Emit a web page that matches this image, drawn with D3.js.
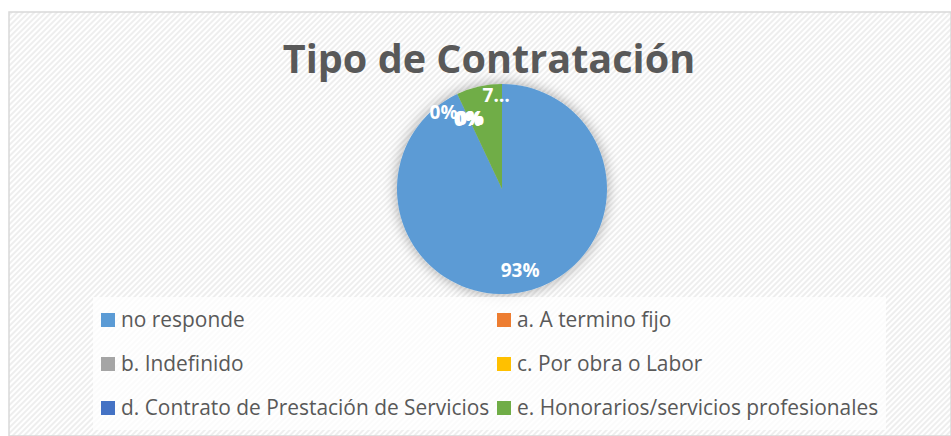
<!DOCTYPE html>
<html>
<head>
<meta charset="utf-8">
<script src="https://cdn.jsdelivr.net/npm/d3@7"></script>
<style>
  html, body { margin: 0; padding: 0; background: #fff; }
  svg { display: block; }
</style>
</head>
<body>
<div id="chart"></div>
<script>
// Tipo de Contratación - pie chart
const categories = [
    "no responde",
    "a. A termino fijo",
    "b. Indefinido",
    "c. Por obra o Labor",
    "d. Contrato de Prestación de Servicios",
    "e. Honorarios/servicios profesionales"
];
const values = [93, 0, 0, 0, 0, 7];
const labelTexts = ["93%", "0%", "0%", "0%", "0%", "7…"];
const colors = ["#5b9bd5", "#ed7d31", "#a5a5a5", "#ffc000", "#4472c4", "#70ad47"];

const W = 951, H = 436;
const font = "'Open Sans', Lato, sans-serif";

const svg = d3.select("#chart")
    .append("svg")
    .attr("width", W)
    .attr("height", H);

const defs = svg.append("defs");

// diagonal stripe background
const pat = defs.append("pattern")
    .attr("id", "stripes")
    .attr("width", 4)
    .attr("height", 4)
    .attr("patternUnits", "userSpaceOnUse")
    .attr("patternTransform", "rotate(-45)");
pat.append("rect").attr("width", 4).attr("height", 4).attr("fill", "#ffffff");
pat.append("rect").attr("width", 4).attr("height", 2).attr("fill", "#eeeeee");

const shadow = defs.append("filter")
    .attr("id", "glow")
    .attr("x", "-30%").attr("y", "-30%")
    .attr("width", "160%").attr("height", "160%");
shadow.append("feGaussianBlur")
    .attr("in", "SourceAlpha")
    .attr("stdDeviation", 7)
    .attr("result", "blur");
shadow.append("feComponentTransfer")
    .append("feFuncA").attr("type", "linear").attr("slope", 0.35);
const merge = shadow.append("feMerge");
merge.append("feMergeNode");
merge.append("feMergeNode").attr("in", "SourceGraphic");

// chart area
svg.append("rect")
    .attr("x", 9)
    .attr("y", 12)
    .attr("width", W - 9)
    .attr("height", H - 12)
    .attr("fill", "url(#stripes)")
    .attr("stroke", "#d9d9d9")
    .attr("stroke-width", 1.5);

// title
svg.append("text")
    .attr("x", 489)
    .attr("y", 73)
    .attr("text-anchor", "middle")
    .attr("font-family", font)
    .attr("font-weight", "700")
    .attr("font-size", "39.6px")
    .attr("fill", "#595959")
    .text("Tipo de Contratación");

// pie
const cx = 502, cy = 189, radius = 105;
const pie = d3.pie().sort(null).value(d => d.value);
const arc = d3.arc().innerRadius(0).outerRadius(radius);
const data = categories.map((c, i) => ({ name: c, value: values[i], color: colors[i], label: labelTexts[i] }));
const arcs = pie(data);

const g = svg.append("g").attr("transform", `translate(${cx},${cy})`);

g.append("g")
    .attr("filter", "url(#glow)")
    .selectAll("path")
    .data(arcs.filter(d => d.value > 0))
    .enter()
    .append("path")
    .attr("d", arc)
    .attr("fill", d => d.data.color);

// label placement (radius factor, angle nudge in degrees), similar to Excel best fit
const labelLayout = [
    { r: 0.79, da: 0 },
    { r: 0.92, da: -12 },
    { r: 0.74, da: -1 },
    { r: 0.74, da: 0 },
    { r: 0.74, da: 1 },
    { r: 0.89, da: 9 }
];

g.selectAll("text.lbl")
    .data(arcs)
    .enter()
    .append("text")
    .attr("class", "lbl")
    .attr("transform", (d, i) => {
        const a = (d.startAngle + d.endAngle) / 2 + labelLayout[i].da * Math.PI / 180;
        const r = radius * labelLayout[i].r;
        return `translate(${Math.sin(a) * r},${-Math.cos(a) * r})`;
    })
    .attr("text-anchor", "middle")
    .attr("dy", "0.35em")
    .attr("font-family", font)
    .attr("font-weight", "700")
    .attr("font-size", "19px")
    .attr("fill", "#ffffff")
    .text(d => d.data.label);

// legend
svg.append("rect")
    .attr("x", 93)
    .attr("y", 297)
    .attr("width", 793)
    .attr("height", 133)
    .attr("fill", "#ffffff")
    .attr("fill-opacity", 0.75);

const colX = [101, 497];
const rowY = [320, 364, 408];

const legend = svg.append("g")
    .selectAll("g")
    .data(data)
    .enter()
    .append("g")
    .attr("transform", (d, i) => `translate(${colX[i % 2]},${rowY[Math.floor(i / 2)]})`);

legend.append("rect")
    .attr("x", 0)
    .attr("y", -7)
    .attr("width", 14)
    .attr("height", 14)
    .attr("fill", d => d.color);

legend.append("text")
    .attr("x", 20)
    .attr("dy", "0.35em")
    .attr("font-family", font)
    .attr("font-size", "20.9px")
    .attr("fill", "#595959")
    .text(d => d.name);
</script>
</body>
</html>
